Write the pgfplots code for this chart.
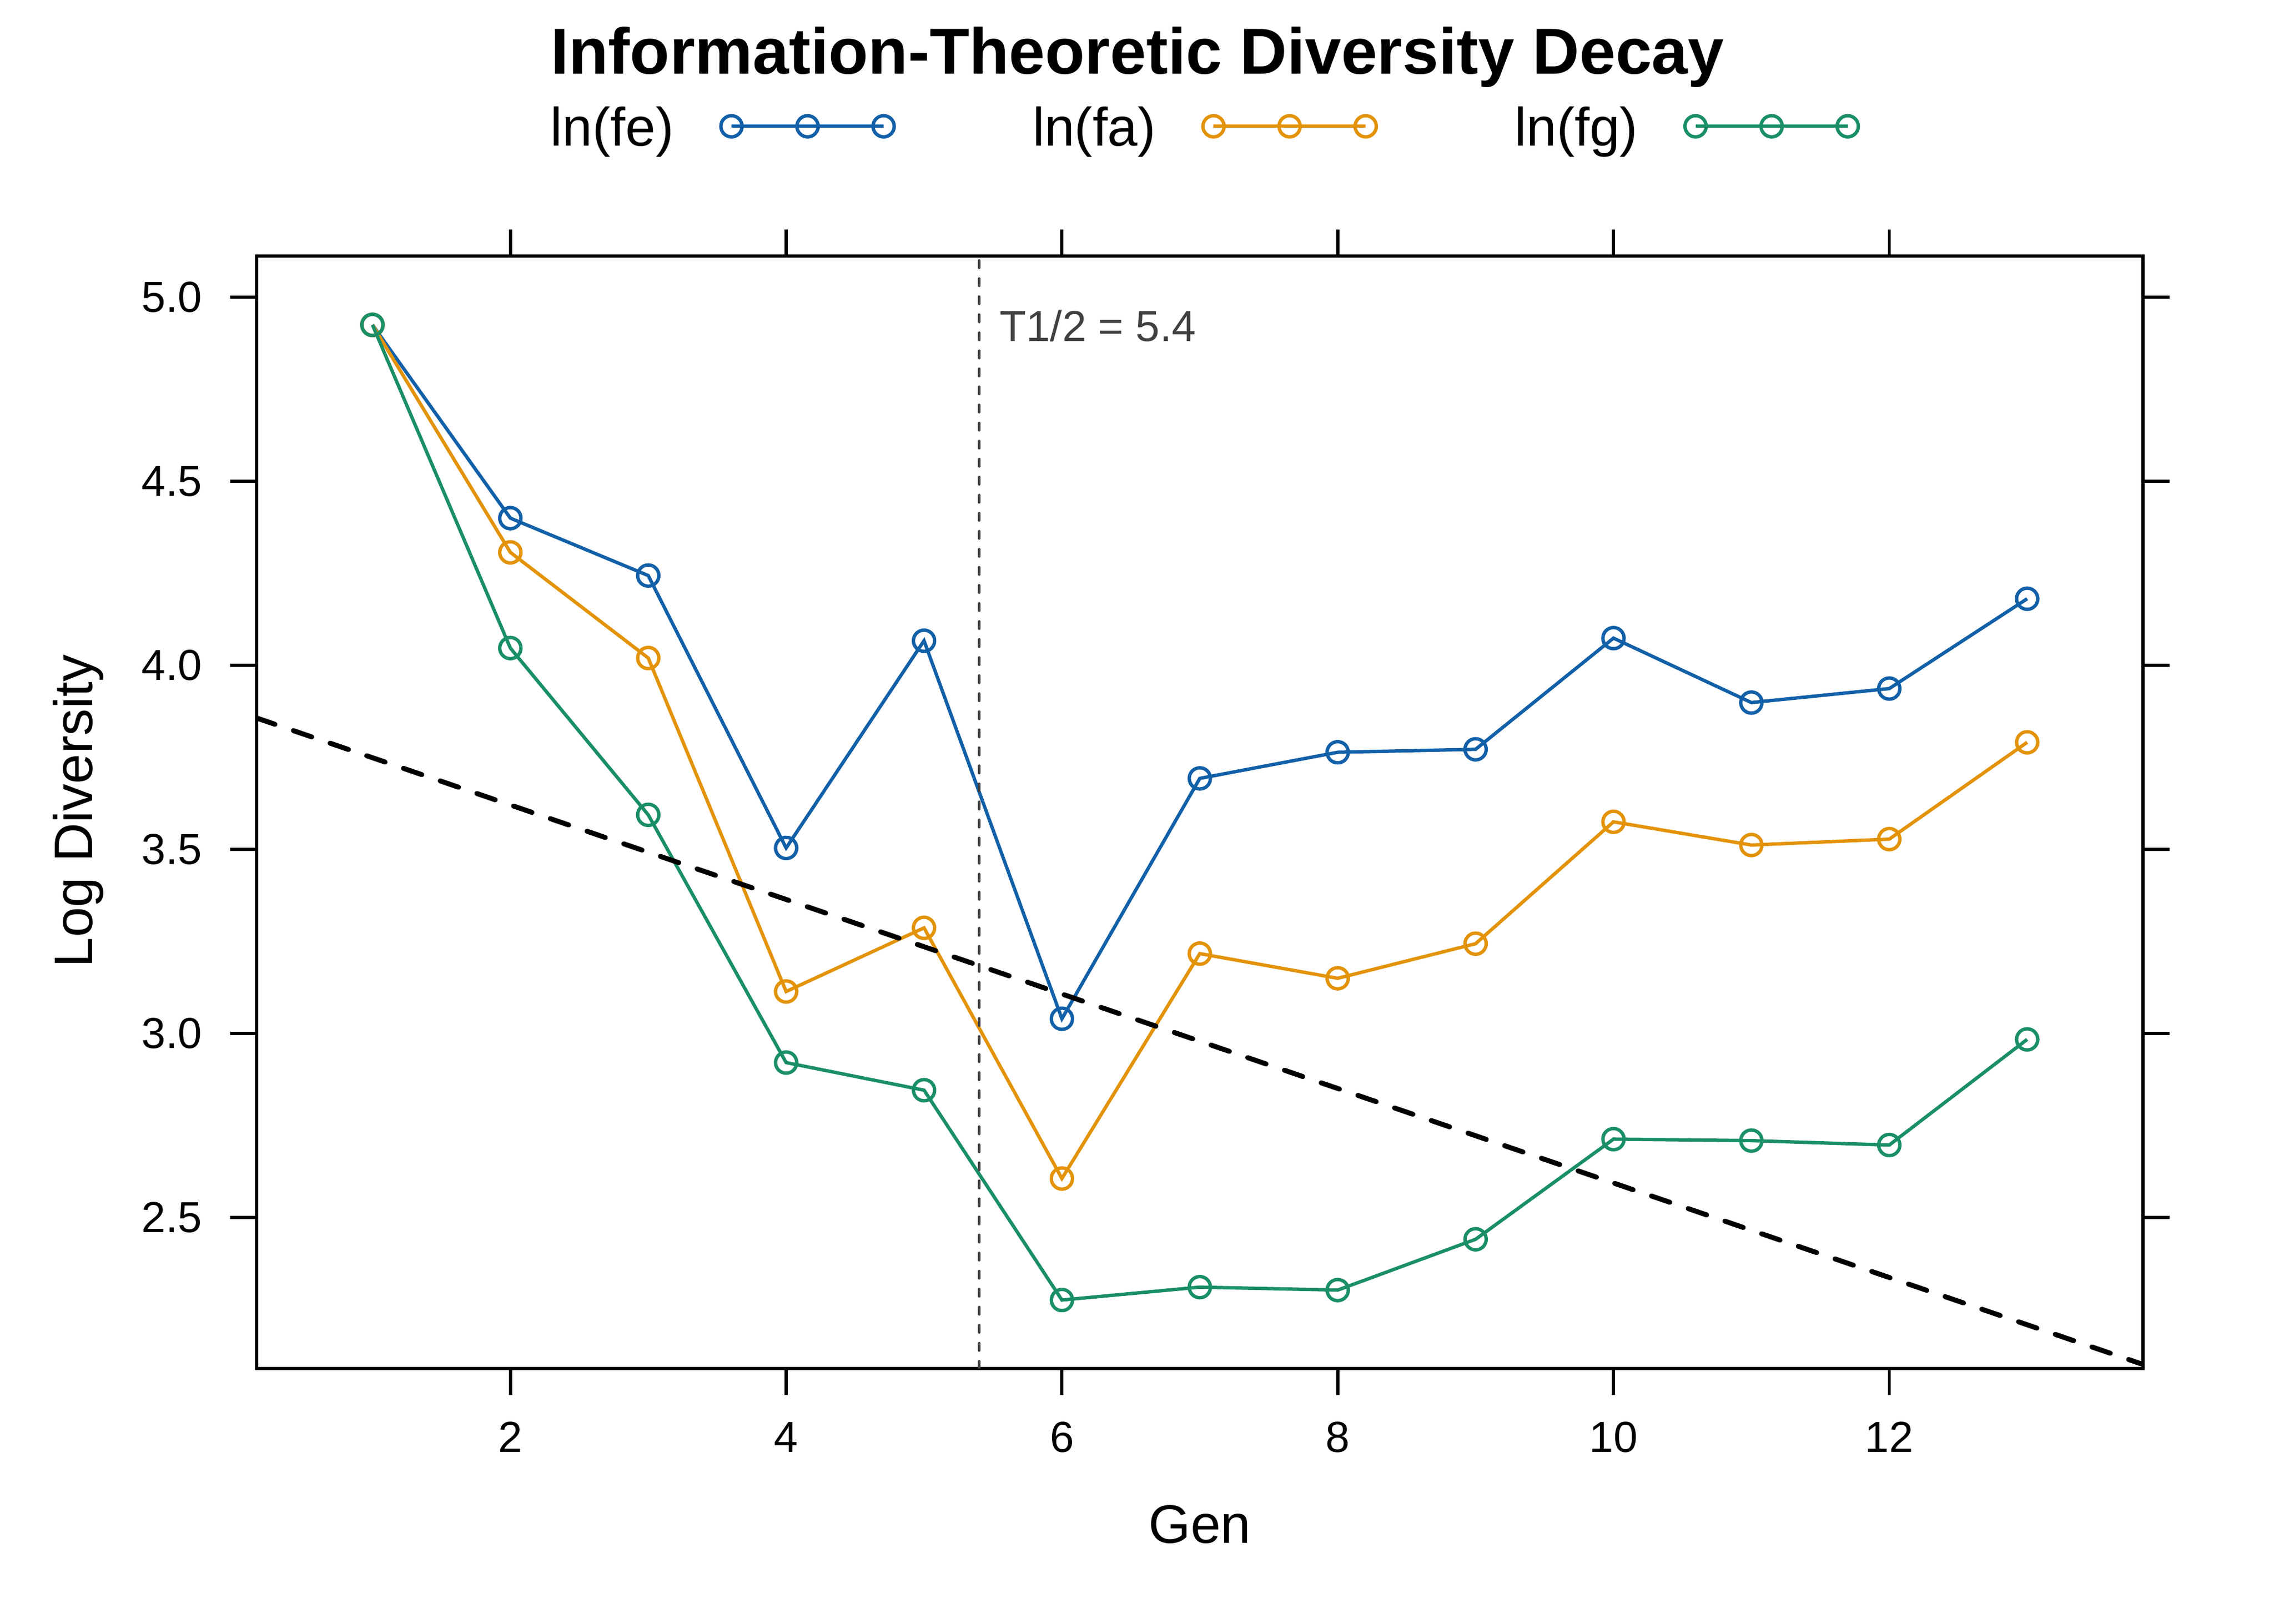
\documentclass[border=0pt]{standalone}
\usepackage{fontspec}
\setmainfont{Liberation Sans}
\usepackage{pgfplots}
\pgfplotsset{compat=1.18}
\definecolor{cfe}{HTML}{1260A8}
\definecolor{cfa}{HTML}{E3930A}
\definecolor{cfg}{HTML}{1A8F66}
\definecolor{annot}{HTML}{404040}
\begin{document}
\begin{tikzpicture}
\useasboundingbox (0,0) rectangle (7in,5in);
\begin{axis}[
  name=ax,
  at={(56.88bp,56.64bp)}, anchor=south west,
  scale only axis, width=418.08bp, height=246.6bp,
  xmin=0.16, xmax=13.84, ymin=2.09, ymax=5.112,
  xtick={2,4,6,8,10,12},
  ytick={2.5,3.0,3.5,4.0,4.5,5.0},
  tick align=outside, tick pos=both,
  major tick length=5.9bp,
  axis line style={line width=0.7bp},
  every tick/.style={line width=0.7bp, black},
  tick label style={font=\fontsize{9.6bp}{11.5bp}\selectfont},
  /pgf/number format/assume math mode=true,
  yticklabel style={anchor=east, inner sep=0pt, xshift=-6bp,
    /pgf/number format/.cd, fixed, fixed zerofill, precision=1},
  xticklabel style={anchor=base, inner sep=0pt, yshift=-12.6bp},
  legend plot pos=right,
  legend columns=3,
  legend style={draw=none, fill=none, inner sep=0pt, outer sep=0pt,
    column sep=0pt,
    at={(0.15576,1.09919)}, anchor=south west,
    font=\fontsize{12bp}{14bp}\selectfont,
    nodes={inner sep=0pt, text height=8bp, text depth=0pt},
    cells={anchor=base west}},
  legend image code/.code={
    \path[draw=none] (0bp,0bp) -- (79.5bp,0bp);
    \draw[mark repeat=1,mark phase=1] plot coordinates {(12.78bp,4.3bp) (29.64bp,4.3bp) (46.5bp,4.3bp)};
  },
  every axis plot/.append style={line width=0.75bp},
]
\addplot[color=cfe, mark=o, mark size=2.35bp, mark options={solid}] coordinates {
(1,4.925) (2,4.400) (3,4.244) (4,3.504) (5,4.067) (6,3.040) (7,3.693)
(8,3.764) (9,3.772) (10,4.074) (11,3.899) (12,3.937) (13,4.181)};
\addlegendentry{ln(fe)}
\addplot[color=cfa, mark=o, mark size=2.35bp, mark options={solid}] coordinates {
(1,4.925) (2,4.307) (3,4.020) (4,3.114) (5,3.287) (6,2.606) (7,3.217)
(8,3.150) (9,3.244) (10,3.575) (11,3.512) (12,3.528) (13,3.791)};
\addlegendentry{ln(fa)}
\addplot[color=cfg, mark=o, mark size=2.35bp, mark options={solid}] coordinates {
(1,4.925) (2,4.047) (3,3.594) (4,2.921) (5,2.846) (6,2.276) (7,2.311)
(8,2.303) (9,2.441) (10,2.713) (11,2.709) (12,2.697) (13,2.984)};
\addlegendentry{ln(fg)}
\addplot[forget plot, black, line width=1.1bp, dash pattern=on 4.3bp off 4.3bp, line cap=round] coordinates {(0.16,3.857) (13.84,2.101)};
\addplot[forget plot, annot, line width=0.6bp, dash pattern=on 1.6bp off 2.4bp, line cap=round] coordinates {(5.4,2.09) (5.4,5.112)};
\node[anchor=base west, inner sep=0pt, text=annot, font=\fontsize{9.6bp}{11.5bp}\selectfont] at (axis cs:5.543,4.881) {T1/2 = 5.4};
\end{axis}
\node[anchor=base, inner sep=0pt, font=\bfseries\fontsize{14.4bp}{17bp}\selectfont] at (252.1bp,343.6bp) {Information-Theoretic Diversity Decay};
\node[anchor=base, inner sep=0pt, font=\fontsize{12bp}{14bp}\selectfont] at (265.9bp,18.0bp) {Gen};
\node[anchor=base, rotate=90, inner sep=0pt, font=\fontsize{12bp}{14bp}\selectfont] at (20.5bp,180.2bp) {Log Diversity};
\end{tikzpicture}
\end{document}
